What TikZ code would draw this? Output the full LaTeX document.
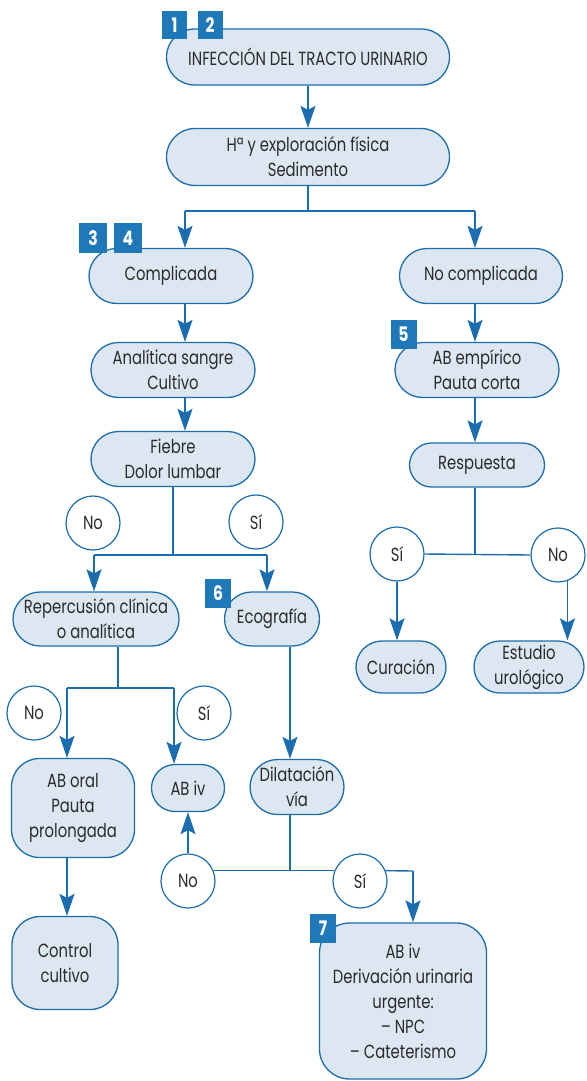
\documentclass[tikz,border=0pt]{standalone}
\usepackage{fontspec}
\setmainfont[FakeStretch=0.78]{Poppins}
\usetikzlibrary{arrows.meta,positioning,shapes.misc,calc}
\definecolor{flowblue}{HTML}{1B6DB0}
\definecolor{boxfill} {HTML}{DDE7F2}
\definecolor{tagblue} {HTML}{1F78B8}
\definecolor{ink}     {HTML}{2B2B2B}
\newcommand{\boxfont}{\fontsize{19}{25}\selectfont}
\tikzset{
  pillbox/.style  ={rounded rectangle, draw=flowblue, fill=boxfill, line width=1.3pt,
                    align=center, text=ink, inner sep=2pt, font=\boxfont},
  roundbox/.style ={rectangle, rounded corners=28pt, draw=flowblue, fill=boxfill,
                    line width=1.3pt, align=center, text=ink, inner sep=2pt, font=\boxfont},
  choice/.style   ={circle, draw=flowblue, fill=white, line width=1.2pt,
                    minimum size=54pt, inner sep=0pt, text=ink, font=\boxfont},
  tag/.style      ={fill=tagblue, text=white, font=\fontsize{20}{20}\selectfont\bfseries,
                    minimum width=26pt, minimum height=29pt, inner sep=0pt},
  flowline/.style ={draw=flowblue, line width=1.4pt},
  flowarr/.style  ={flowline, -{Stealth[length=22pt,width=15pt,inset=4pt]}},
}

\begin{document}
\begin{tikzpicture}[x=1pt,y=-1pt]
    \useasboundingbox (0,0) rectangle (586,1081);

    % boxes
    \node[pillbox,minimum width=287pt,minimum height=56pt] (itu) at (308,57) {INFECCIÓN DEL TRACTO URINARIO};
    \node[pillbox,minimum width=287pt,minimum height=57pt] (hist) at (308,157) {Hª y exploración física\\Sedimento};
    \node[pillbox,minimum width=168pt,minimum height=55pt] (compl) at (171,276) {Complicada};
    \node[pillbox,minimum width=167pt,minimum height=55pt] (nocompl) at (481,276) {No complicada};
    \node[pillbox,minimum width=168pt,minimum height=55pt] (anal) at (173,370) {Analítica sangre\\Cultivo};
    \node[pillbox,minimum width=168pt,minimum height=55pt] (abemp) at (477,370) {AB empírico\\Pauta corta};
    \node[pillbox,minimum width=168pt,minimum height=55pt] (fiebre) at (173,459) {Fiebre\\Dolor lumbar};
    \node[pillbox,minimum width=139pt,minimum height=44pt] (resp) at (477,465) {Respuesta};
    \node[pillbox,minimum width=166pt,minimum height=54pt] (reperc) at (96,619) {Repercusión clínica\\o analítica};
    \node[pillbox,minimum width=99pt,minimum height=54pt] (eco) at (272,619) {Ecografía};
    \node[pillbox,minimum width=94pt,minimum height=52pt] (curac) at (401,667) {Curación};
    \node[pillbox,minimum width=114pt,minimum height=52pt] (estud) at (529,667) {Estudio\\urológico};
    \node[roundbox,minimum width=123pt,minimum height=99pt] (aboral) at (73,808) {AB oral\\Pauta\\prolongada};
    \node[pillbox,minimum width=77pt,minimum height=47pt] (abiv) at (188,788) {AB iv};
    \node[pillbox,minimum width=98pt,minimum height=55pt] (dilat) at (297,787) {Dilatación\\vía};
    \node[roundbox,minimum width=106pt,minimum height=93pt] (control) at (65,963) {Control\\cultivo};
    \node[roundbox,rounded corners=30pt,minimum width=167pt,minimum height=156pt] (deriv) at (403,1001)
      {AB iv\\Derivación urinaria\\urgente:\\– NPC\\– Cateterismo};

    % answers
    \node[choice] (no1) at (93,523) {No};
    \node[choice] (si1) at (256,522) {Sí};
    \node[choice] (si2) at (397,554) {Sí};
    \node[choice] (no2) at (558,555) {No};
    \node[choice] (no3) at (34,713) {No};
    \node[choice] (si3) at (204,713) {Sí};
    \node[choice] (no4) at (188,881) {No};
    \node[choice] (si4) at (360,881) {Sí};

    % tags
    \node[tag,minimum width=25pt,minimum height=28pt] (t1) at (174.5,25) {1};
    \node[tag,minimum width=25pt,minimum height=28pt] (t2) at (210,25) {2};
    \node[tag,minimum width=28pt,minimum height=30pt] (t3) at (93,238) {3};
    \node[tag,minimum width=28pt,minimum height=30pt] (t4) at (128,238) {4};
    \node[tag] (t5) at (403.5,334) {5};
    \node[tag] (t6) at (218,593) {6};
    \node[tag] (t7) at (323,928) {7};

    % junction points
    \coordinate (jtop) at (308,211);
    \coordinate (jtopl) at (185,211);
    \coordinate (jtopr) at (475,211);
    \coordinate (jfb) at (173,555);
    \coordinate (jfbl) at (94,555);
    \coordinate (jfbr) at (267,555);
    \coordinate (jrep) at (118,688);
    \coordinate (jrepl) at (67,688);
    \coordinate (jrepr) at (174,688);
    \coordinate (jdil) at (290,871);
    \coordinate (jder) at (413,871);

    % connectors
    \draw[flowarr] (itu.south) -- (hist.north);
    \draw[flowline] (hist.south) -- (jtop);
    \draw[flowline] (jtopl) -- (jtopr);
    \draw[flowarr] (jtopl) -- (jtopl |- compl.north);
    \draw[flowarr] (jtopr) -- (jtopr |- nocompl.north);
    \draw[flowarr] (compl.south -| jtopl) -- (anal.north -| jtopl);
    \draw[flowarr] (anal.south -| jtopl) -- (fiebre.north -| jtopl);
    \draw[flowarr] (nocompl.south -| jtopr) -- (abemp.north -| jtopr);
    \draw[flowarr] (abemp.south -| jtopr) -- (resp.north -| jtopr);

    \draw[flowline] (fiebre.south) -- (jfb);
    \draw[flowline] (jfbl) -- (jfbr);
    \draw[flowarr] (jfbl) -- (jfbl |- reperc.north);
    \draw[flowarr] (jfbr) -- (jfbr |- eco.north);

    \draw[flowline] (resp.south -| jtopr) -- (jtopr |- si2.east);
    \draw[flowline] (si2.east) -- (no2.west);
    \draw[flowarr] (si2.south) -- (si2.south |- curac.north);
    \draw[flowarr] (no2.-70) -- (no2.-70 |- estud.north);

    \draw[flowline] (reperc.south -| jrep) -- (jrep);
    \draw[flowline] (jrepl) -- (jrepr);
    \draw[flowarr] (jrepl) -- (jrepl |- aboral.north);
    \draw[flowarr] (jrepr) -- (jrepr |- abiv.north);
    \draw[flowarr] (aboral.south -| jrepl) -- (control.north -| jrepl);

    \draw[flowarr] (eco.south -| jdil) -- (dilat.north -| jdil);
    \draw[flowline] (dilat.south -| jdil) -- (jdil);
    \draw[flowline] (no4.22) -- (si4.158);
    \draw[flowline] (si4.22) -- (jder);
    \draw[flowarr] (jder) -- (jder |- deriv.north);
    \draw[flowarr] (no4.north) -- (abiv.south);
\end{tikzpicture}
\end{document}
